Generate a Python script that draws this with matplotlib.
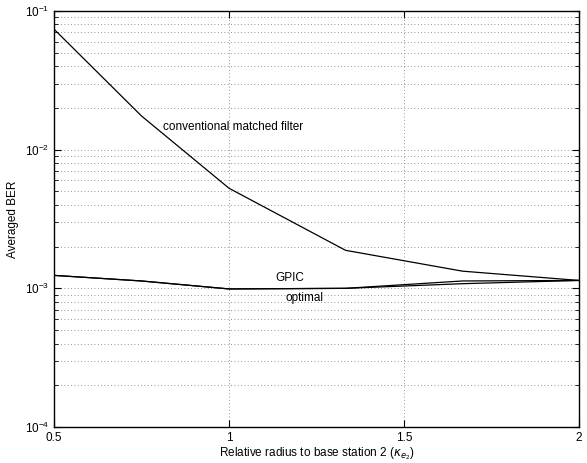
import matplotlib
matplotlib.use("Agg")
import matplotlib.pyplot as plt
from matplotlib.ticker import LogLocator, NullFormatter

x = [0.5, 0.75, 1.0, 1.333, 1.667, 2.0]
ber_conv = [0.074, 0.0175, 0.00527, 0.00188, 0.00133, 0.00114]
ber_gpic = [0.00124, 0.00113, 0.00099, 0.00100, 0.00113, 0.00114]
ber_opt = [0.00124, 0.00113, 0.00099, 0.00100, 0.00108, 0.00114]
xticks = [0.5, 1, 1.5, 2]

plt.rcParams['font.family'] = ['Liberation Sans', 'DejaVu Sans']
fig = plt.figure(figsize=(5.87, 4.63), dpi=100)
ax = fig.add_axes([54/587, 1-427/463, (579-54)/587, (427-11)/463])

ax.semilogy(x, ber_conv, color='black', lw=0.9)
ax.semilogy(x, ber_gpic, color='black', lw=0.9)
ax.semilogy(x, ber_opt, color='black', lw=0.9)

ax.set_xlim(0.5, 2)
ax.set_ylim(1e-4, 1e-1)
ax.set_xticks(xticks)
ax.set_xticklabels(['0.5', '1', '1.5', '2'])
ax.yaxis.set_major_locator(LogLocator(base=10, numticks=10))
ax.yaxis.set_minor_locator(LogLocator(base=10, subs=range(2, 10), numticks=20))
ax.yaxis.set_minor_formatter(NullFormatter())
gkw = dict(linestyle=(0, (1, 3)), color='0.45', lw=0.6)
ax.grid(True, which='major', axis='both', **gkw)
ax.grid(True, which='minor', axis='y', **gkw)
ax.tick_params(which='both', direction='in', top=True, right=True, labelsize=8.5)
ax.tick_params(which='major', length=5)
ax.tick_params(which='minor', length=3)
for s in ax.spines.values():
    s.set_linewidth(1.0)

ax.text(0.811, 0.0145, 'conventional matched filter', fontsize=8.5, ha='left', va='center')
ax.text(1.175, 0.00118, 'GPIC', fontsize=8.5, ha='center', va='center')
ax.text(1.217, 0.00085, 'optimal', fontsize=8.5, ha='center', va='center')

ax.set_xlabel(r'Relative radius to base station 2 ($\kappa_{e_2}$)', fontsize=8.5, labelpad=1)
ax.set_ylabel('Averaged BER', fontsize=8.5)

fig.savefig('out.png', dpi=100)
